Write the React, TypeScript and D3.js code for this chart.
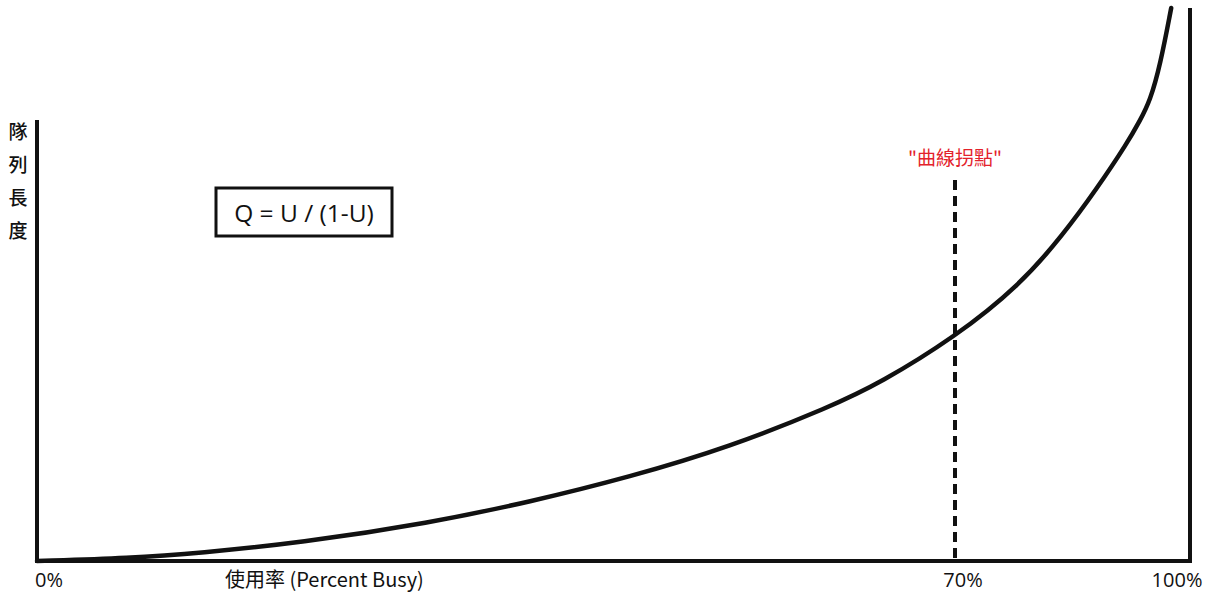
import React from "react";
import * as d3 from "d3";

// Utilization (percent) and queue length (relative units)
const utilization = [0, 7.1, 12.4, 20.0, 30.0, 37.6, 45.2, 52.8, 60.5, 64.3, 70, 78.3, 83.8, 88.1, 92.0, 93.6, 94.9, 96.2, 97.6];
const queueLength = [0, 0.55, 1.45, 3.25, 6.9, 10.7, 15.2, 20.6, 27.9, 32.2, 40.5, 49.9, 59.0, 67.3, 75.6, 79.6, 83.2, 89.7, 100];

const xTickValues = [0, 70, 100];
const xTickLabels = ["0%", "70%", "100%"];
const yLabelChars = ["隊", "列", "長", "度"];
const kneeValue = 70;
const kneeLabel = "\"曲線拐點\"";
const formulaText = "Q = U / (1-U)";
const xTitle = "使用率 (Percent Busy)";

const W = 1209;
const H = 597;

export default function App() {
  // piecewise-linear x scale as in the schematic drawing
  const x = d3.scaleLinear().domain([0, 70, 100]).range([37, 955, 1190]);
  const y = d3.scaleLinear().domain([0, 100]).range([561, 8]);

  const pts = utilization.map((u, i) => [u, queueLength[i]] as [number, number]);
  const line = d3
    .line<[number, number]>()
    .x((d) => x(d[0]))
    .y((d) => y(d[1]))
    .curve(d3.curveBasis);

  const cjk = "'Noto Sans CJK TC', 'Open Sans', sans-serif";
  const latin = "'Open Sans', 'Noto Sans CJK TC', sans-serif";

  return (
    <div style={{ position: "absolute", left: 0, top: 0 }}>
      <svg width={W} height={H} style={{ display: "block", background: "#fff" }}>
        {/* axes */}
        <line x1={x(0)} x2={x(0)} y1={120} y2={y(0) + 2} stroke="#111" strokeWidth={4} />
        <line x1={x(0) - 2} x2={x(100) + 2} y1={y(0)} y2={y(0)} stroke="#111" strokeWidth={4} />
        <line x1={x(100)} x2={x(100)} y1={y(100)} y2={y(0) + 2} stroke="#111" strokeWidth={4} />

        {/* knee dashed line */}
        <line
          x1={x(kneeValue)}
          x2={x(kneeValue)}
          y1={180}
          y2={y(0) - 2}
          stroke="#111"
          strokeWidth={4}
          strokeDasharray="10,6"
        />

        {/* curve */}
        <path d={line(pts) || ""} fill="none" stroke="#111" strokeWidth={4.5} strokeLinecap="round" />

        {/* y label */}
        {yLabelChars.map((c, i) => (
          <text
            key={c}
            x={18}
            y={139 + i * 33}
            textAnchor="middle"
            fontSize={19}
            fontWeight={500}
            fontFamily={cjk}
            fill="#111"
          >
            {c}
          </text>
        ))}

        {/* formula box */}
        <rect x={216} y={188} width={176} height={48} fill="none" stroke="#111" strokeWidth={3} />
        <text x={304} y={222} textAnchor="middle" fontSize={24.5} fontFamily={latin} fill="#111">
          {formulaText}
        </text>

        {/* knee label */}
        <text x={x(kneeValue)} y={165} textAnchor="middle" fontSize={19} fontFamily={cjk} fill="#e3222b">
          {kneeLabel}
        </text>

        {/* x tick labels */}
        {xTickValues.map((v, i) => (
          <text
            key={v}
            x={i === 0 ? x(v) - 2 : i === 1 ? x(v) + 8 : x(v) - 13}
            y={587}
            textAnchor={i === 0 ? "start" : "middle"}
            fontSize={20}
            fontFamily={latin}
            fill="#111"
          >
            {xTickLabels[i]}
          </text>
        ))}
        <text x={225} y={587} fontSize={20} fontFamily={cjk} fill="#111">
          {xTitle}
        </text>
      </svg>
    </div>
  );
}
